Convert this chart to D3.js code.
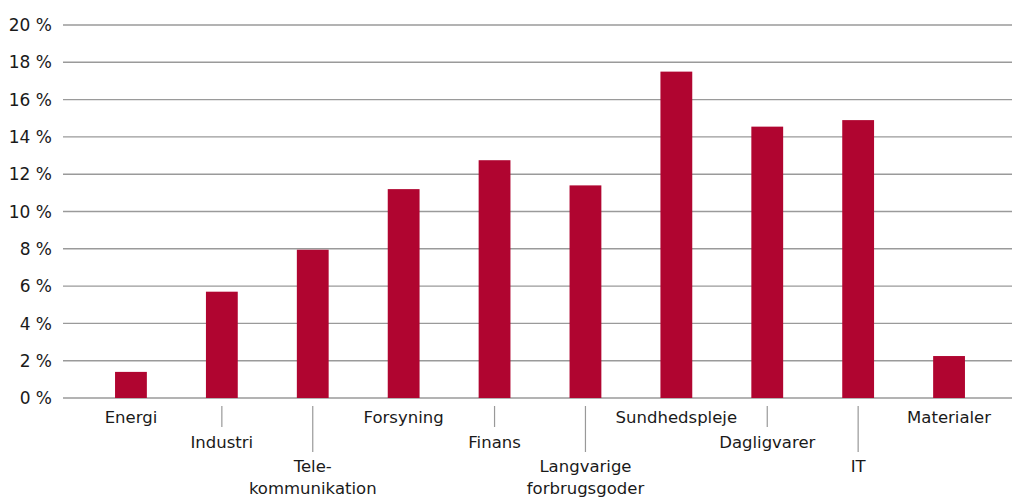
<!DOCTYPE html>
<html>
<head>
<meta charset="utf-8">
<script src="https://cdn.jsdelivr.net/npm/d3@7"></script>
<style>
  body { margin: 0; background: #fff; }
  text { font-family: "DejaVu Sans", sans-serif; fill: #1a1a1a; }
</style>
</head>
<body>
<div id="graph"></div>
<script>
var categories = ["Energi", "Industri", "Tele-\nkommunikation", "Forsyning", "Finans",
    "Langvarige\nforbrugsgoder", "Sundhedspleje", "Dagligvarer", "IT", "Materialer"];
var values = [1.4, 5.7, 7.95, 11.2, 12.75, 11.4, 17.5, 14.55, 14.9, 2.25];
var yTicks = [0, 2, 4, 6, 8, 10, 12, 14, 16, 18, 20];

var w = 1012, h = 501;

var svg = d3.select("#graph").append("svg")
    .attr("width", w)
    .attr("height", h);

var x = d3.scaleBand().domain(categories).range([85.5, 994.5]).paddingInner(0.65).paddingOuter(0.325);
var y = d3.scaleLinear().domain([0, 20]).range([398, 25]);

// gridlines
svg.append("g").selectAll("line")
    .data(yTicks)
    .enter().append("line")
    .attr("x1", 63).attr("x2", w)
    .attr("y1", function(d) { return y(d); })
    .attr("y2", function(d) { return y(d); })
    .attr("stroke", "#9a9a9a")
    .attr("stroke-width", 1.4);

// y labels
svg.append("g").selectAll("text")
    .data(yTicks)
    .enter().append("text")
    .attr("x", 52)
    .attr("y", function(d) { return y(d); })
    .attr("dy", "0.36em")
    .attr("text-anchor", "end")
    .style("font-size", "17px")
    .text(function(d) { return d + " %"; });

// bars
svg.selectAll(".bar")
    .data(values)
    .enter().append("rect")
    .attr("class", "bar")
    .attr("x", function(d, i) { return x(categories[i]); })
    .attr("width", x.bandwidth())
    .attr("y", function(d) { return y(d); })
    .attr("height", function(d) { return y(0) - y(d); })
    .attr("fill", "#b00530");

// staggered x labels
var levelBase = [423, 447.5, 472];
var xl = svg.append("g").selectAll("g")
    .data(categories)
    .enter().append("g")
    .attr("transform", function(d) { return "translate(" + (x(d) + x.bandwidth() / 2) + ",0)"; });

xl.filter(function(d, i) { return i % 3 > 0; })
    .append("line")
    .attr("x1", 0).attr("x2", 0)
    .attr("y1", 406)
    .attr("y2", function(d, i) { return categories.indexOf(d) % 3 == 1 ? 427 : 452; })
    .attr("stroke", "#999")
    .attr("stroke-width", 1.2);

xl.each(function(d, i) {
    var t = d3.select(this).append("text")
        .attr("text-anchor", "middle")
        .style("font-size", "16.5px")
        .attr("y", levelBase[i % 3]);
    d.split("\n").forEach(function(s, k) {
        t.append("tspan").attr("x", 0).attr("dy", k ? 22 : 0).text(s);
    });
});
</script>
</body>
</html>
